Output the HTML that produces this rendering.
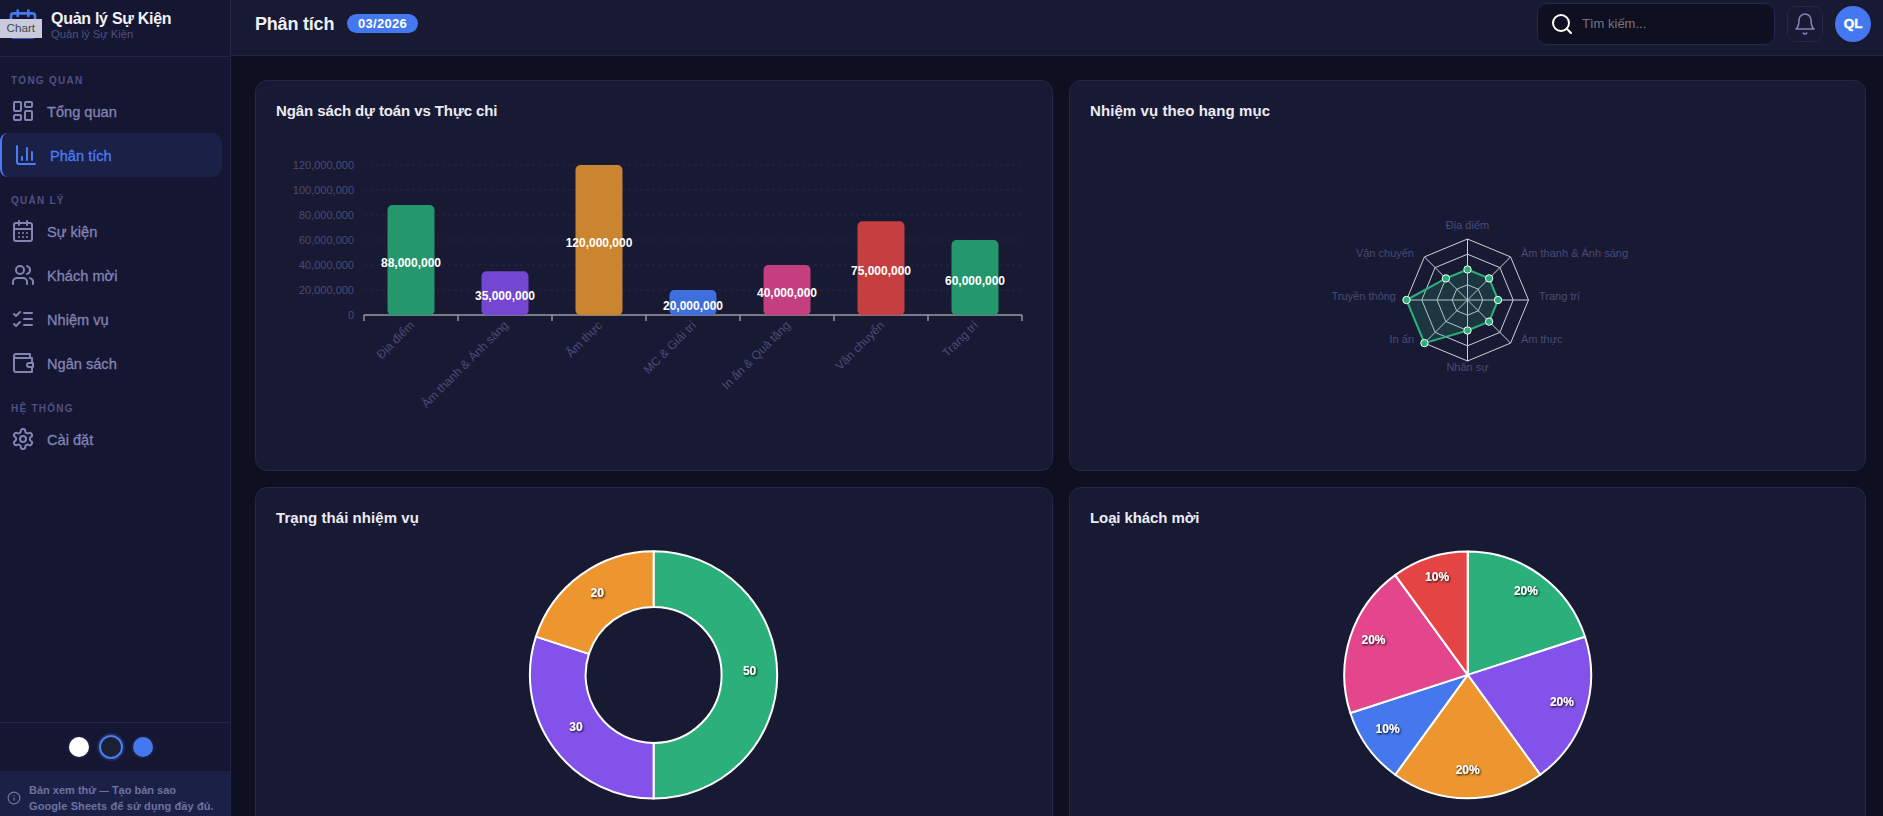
<!DOCTYPE html>
<html lang="vi">
<head>
<meta charset="utf-8">
<title>Quản lý Sự Kiện</title>
<style>
*{box-sizing:border-box;margin:0;padding:0}
html,body{width:1883px;height:816px;overflow:hidden;background:#0f0f22;font-family:"Liberation Sans",sans-serif;color:#fff}
.abs{position:absolute}
#sidebar{position:absolute;left:0;top:0;width:231px;height:816px;background:#151632;border-right:1px solid #22244a}
#sbhead{position:absolute;left:0;top:0;width:230px;height:57px;border-bottom:1px solid #22244a}
.brand{position:absolute;left:51px;top:9.7px;font-size:16px;line-height:18px;font-weight:700;color:#f1f1f9;white-space:nowrap;letter-spacing:-0.28px}
.brandsub{position:absolute;left:51px;top:28px;font-size:11.2px;color:#4f527e;white-space:nowrap}
.tip{position:absolute;left:0;top:19px;width:42px;height:19px;background:#c9cbdc;color:#46464c;font-size:11.7px;line-height:17.5px;padding-left:6.5px}
.sec{position:absolute;left:11px;font-size:10px;font-weight:700;letter-spacing:1.25px;color:#4e5182;margin-top:0.5px;white-space:nowrap}
.nav{position:absolute;left:47px;font-size:14.6px;line-height:18px;margin-top:-0.5px;color:#8284b3;white-space:nowrap;font-weight:400;-webkit-text-stroke:0.3px #8284b3}
.nav.act{left:50px;color:#4a7cf5;-webkit-text-stroke:0.3px #4a7cf5}
.ico{position:absolute;left:11px;width:24px;height:24px;fill:none;stroke:#8284b3;stroke-width:2;stroke-linecap:round;stroke-linejoin:round}
#actbg{position:absolute;left:0;top:133px;width:222px;height:44px;background:#1b2046;border-radius:8px 10px 10px 8px;border-left:2.5px solid #4a7cf5}
#sbfoot{position:absolute;left:0;top:722px;width:230px;height:1px;background:#22244a}
.dot{position:absolute;top:737px;width:20px;height:20px;border-radius:50%}
#banner{position:absolute;left:0;top:771px;width:230px;height:45px;background:#1b2046}
#banner .t{position:absolute;left:29px;top:11px;font-size:11px;line-height:16px;color:#6f71a0;white-space:nowrap;font-weight:700;letter-spacing:0.1px}
#header{position:absolute;left:231px;top:0;width:1652px;height:56px;background:#181932;border-bottom:1px solid #22244a}
#ptitle{position:absolute;left:24px;top:13.5px;font-size:18px;font-weight:700;color:#efeff8;white-space:nowrap;letter-spacing:-0.2px}
#badge{position:absolute;left:116px;top:14px;width:71px;height:19px;border-radius:10px;background:#4478ee;color:#fff;font-size:13px;font-weight:700;line-height:20px;text-align:center;letter-spacing:0.3px}
#search{position:absolute;left:1306px;top:3px;width:238px;height:42px;border-radius:9px;background:#0f0f22;border:1px solid #24264b}
#search span{position:absolute;left:44px;top:12px;font-size:13px;color:#76767c;white-space:nowrap}
#bell{position:absolute;left:1556px;top:6px;width:36px;height:36px;border-radius:9px;border:1px solid #24264b;background:#181932}
#avatar{position:absolute;left:1604px;top:6px;width:36px;height:36px;border-radius:50%;background:#4478ee;color:#fff;font-size:13.5px;font-weight:700;line-height:36px;text-align:center;-webkit-text-stroke:0.4px #fff}
.card{position:absolute;background:#181932;border:1px solid #24264a;border-radius:12px}
.ctitle{position:absolute;left:20px;top:20.5px;font-size:15px;font-weight:700;color:#ebebf5;white-space:nowrap;letter-spacing:-0.1px}
svg text{font-family:"Liberation Sans",sans-serif}
</style>
</head>
<body>
<div id="sidebar">
  <div id="sbhead">
    <svg class="abs" style="left:7px;top:8px" width="32" height="32" viewBox="0 0 24 24" fill="none" stroke="#4478ee" stroke-width="2" stroke-linecap="round" stroke-linejoin="round"><rect x="3" y="4" width="18" height="18" rx="2"/><line x1="16" y1="2" x2="16" y2="6"/><line x1="8" y1="2" x2="8" y2="6"/><line x1="3" y1="10" x2="21" y2="10"/></svg>
    <div class="tip">Chart</div>
    <div class="brand">Quản lý Sự Kiện</div>
    <div class="brandsub">Quản lý Sự Kiện</div>
  </div>
  <div class="sec" style="top:74px">TỔNG QUAN</div>
  <svg class="ico" style="top:99px" viewBox="0 0 24 24"><rect x="3" y="3" width="7" height="9" rx="1"/><rect x="14" y="3" width="7" height="5" rx="1"/><rect x="14" y="12" width="7" height="9" rx="1"/><rect x="3" y="16" width="7" height="5" rx="1"/></svg>
  <div class="nav" style="top:103px">Tổng quan</div>
  <div id="actbg"></div>
  <svg class="ico" style="top:143px;left:14px;stroke:#4a7cf5" viewBox="0 0 24 24"><path d="M3 3v16a2 2 0 0 0 2 2h16"/><path d="M18 17V9"/><path d="M13 17V5"/><path d="M8 17v-3"/></svg>
  <div class="nav act" style="top:147px">Phân tích</div>
  <div class="sec" style="top:194px">QUẢN LÝ</div>
  <svg class="ico" style="top:219px" viewBox="0 0 24 24"><path d="M8 2v4"/><path d="M16 2v4"/><rect x="3" y="4" width="18" height="18" rx="2"/><path d="M3 10h18"/><path d="M8 14h.01"/><path d="M12 14h.01"/><path d="M16 14h.01"/><path d="M8 18h.01"/><path d="M12 18h.01"/><path d="M16 18h.01"/></svg>
  <div class="nav" style="top:223px">Sự kiện</div>
  <svg class="ico" style="top:263px" viewBox="0 0 24 24"><path d="M16 21v-2a4 4 0 0 0-4-4H6a4 4 0 0 0-4 4v2"/><circle cx="9" cy="7" r="4"/><path d="M22 21v-2a4 4 0 0 0-3-3.87"/><path d="M16 3.13a4 4 0 0 1 0 7.75"/></svg>
  <div class="nav" style="top:267px">Khách mời</div>
  <svg class="ico" style="top:307px" viewBox="0 0 24 24"><path d="m3 17 2 2 4-4"/><path d="m3 7 2 2 4-4"/><path d="M13 6h8"/><path d="M13 12h8"/><path d="M13 18h8"/></svg>
  <div class="nav" style="top:311px">Nhiệm vụ</div>
  <svg class="ico" style="top:351px" viewBox="0 0 24 24"><path d="M21 12V7H5a2 2 0 0 1 0-4h14v4"/><path d="M3 5v14a2 2 0 0 0 2 2h16v-5"/><path d="M18 12a2 2 0 0 0 0 4h4v-4Z"/></svg>
  <div class="nav" style="top:355px">Ngân sách</div>
  <div class="sec" style="top:402px">HỆ THỐNG</div>
  <svg class="ico" style="top:427px" viewBox="0 0 24 24"><path d="M12.22 2h-.44a2 2 0 0 0-2 2v.18a2 2 0 0 1-1 1.73l-.43.25a2 2 0 0 1-2 0l-.15-.08a2 2 0 0 0-2.73.73l-.22.38a2 2 0 0 0 .73 2.73l.15.1a2 2 0 0 1 1 1.72v.51a2 2 0 0 1-1 1.74l-.15.09a2 2 0 0 0-.73 2.73l.22.38a2 2 0 0 0 2.73.73l.15-.08a2 2 0 0 1 2 0l.43.25a2 2 0 0 1 1 1.73V20a2 2 0 0 0 2 2h.44a2 2 0 0 0 2-2v-.18a2 2 0 0 1 1-1.73l.43-.25a2 2 0 0 1 2 0l.15.08a2 2 0 0 0 2.73-.73l.22-.39a2 2 0 0 0-.73-2.73l-.15-.08a2 2 0 0 1-1-1.74v-.5a2 2 0 0 1 1-1.74l.15-.09a2 2 0 0 0 .73-2.73l-.22-.38a2 2 0 0 0-2.73-.73l-.15.08a2 2 0 0 1-2 0l-.43-.25a2 2 0 0 1-1-1.73V4a2 2 0 0 0-2-2z"/><circle cx="12" cy="12" r="3"/></svg>
  <div class="nav" style="top:431px">Cài đặt</div>
  <div id="sbfoot"></div>
  <div class="dot" style="left:69px;background:#fff;box-shadow:0 0 0 2px #1c1d3c"></div>
  <div class="dot" style="left:99px;top:735px;width:24px;height:24px;background:#1c2033;border:2.5px solid #4a7cf5;box-shadow:0 0 0 2px #1d2a5a"></div>
  <div class="dot" style="left:133px;background:#4478ee;box-shadow:0 0 0 2px #1c1d3c"></div>
  <div id="banner">
    <svg class="abs" style="left:7px;top:20px" width="14" height="14" viewBox="0 0 24 24" fill="none" stroke="#7577a6" stroke-width="2" stroke-linecap="round"><circle cx="12" cy="12" r="10"/><path d="M12 16v-4"/><path d="M12 8h.01"/></svg>
    <div class="t"><span style="letter-spacing:0">Bản xem thử <span style="font-size:9.5px;line-height:0">—</span> Tạo bản sao</span><br>Google Sheets để sử dụng đầy đủ.</div>
  </div>
</div>
<div id="header">
  <div id="ptitle">Phân tích</div>
  <div id="badge">03/2026</div>
  <div id="search">
    <svg class="abs" style="left:12px;top:8px" width="24" height="24" viewBox="0 0 24 24" fill="none" stroke="#fff" stroke-width="2" stroke-linecap="round"><circle cx="11" cy="11" r="8"/><path d="m21 21-4.3-4.3"/></svg>
    <span>Tìm kiếm...</span>
  </div>
  <div id="bell">
    <svg class="abs" style="left:5px;top:5px" width="24" height="24" viewBox="0 0 24 24" fill="none" stroke="#8284b3" stroke-width="1.6" stroke-linecap="round" stroke-linejoin="round"><path d="M6 8a6 6 0 0 1 12 0c0 7 3 9 3 9H3s3-2 3-9"/><path d="M10.3 21a1.94 1.94 0 0 0 3.4 0"/></svg>
  </div>
  <div id="avatar">QL</div>
</div>
<div class="card" id="c1" style="left:255px;top:80px;width:798px;height:391px"><div class="ctitle">Ngân sách dự toán vs Thực chi</div></div>
<div class="card" id="c2" style="left:1069px;top:80px;width:797px;height:391px"><div class="ctitle" style="letter-spacing:0.08px">Nhiệm vụ theo hạng mục</div></div>
<div class="card" id="c3" style="left:255px;top:487px;width:798px;height:390px"><div class="ctitle" style="letter-spacing:0.07px">Trạng thái nhiệm vụ</div></div>
<div class="card" id="c4" style="left:1069px;top:487px;width:797px;height:390px"><div class="ctitle">Loại khách mời</div></div>
<!--CHARTS-->
<svg id="charts" class="abs" style="left:0;top:0;pointer-events:none" width="1883" height="816" viewBox="0 0 1883 816">
<defs><filter id="ts" x="-30%" y="-30%" width="160%" height="160%"><feDropShadow dx="1" dy="1" stdDeviation="0.9" flood-color="#000" flood-opacity="1"/></filter></defs>
<g id="bar">
<text x="354" y="319.0" text-anchor="end" font-size="11" fill="#494b78">0</text>
<text x="354" y="294.0" text-anchor="end" font-size="11" fill="#494b78">20,000,000</text>
<line x1="364" y1="290.0" x2="1022" y2="290.0" stroke="#25274b" stroke-width="1" stroke-dasharray="3 3"/>
<text x="354" y="269.0" text-anchor="end" font-size="11" fill="#494b78">40,000,000</text>
<line x1="364" y1="265.0" x2="1022" y2="265.0" stroke="#25274b" stroke-width="1" stroke-dasharray="3 3"/>
<text x="354" y="244.0" text-anchor="end" font-size="11" fill="#494b78">60,000,000</text>
<line x1="364" y1="240.0" x2="1022" y2="240.0" stroke="#25274b" stroke-width="1" stroke-dasharray="3 3"/>
<text x="354" y="219.0" text-anchor="end" font-size="11" fill="#494b78">80,000,000</text>
<line x1="364" y1="215.0" x2="1022" y2="215.0" stroke="#25274b" stroke-width="1" stroke-dasharray="3 3"/>
<text x="354" y="194.0" text-anchor="end" font-size="11" fill="#494b78">100,000,000</text>
<line x1="364" y1="190.0" x2="1022" y2="190.0" stroke="#25274b" stroke-width="1" stroke-dasharray="3 3"/>
<text x="354" y="169.0" text-anchor="end" font-size="11" fill="#494b78">120,000,000</text>
<line x1="364" y1="165.0" x2="1022" y2="165.0" stroke="#25274b" stroke-width="1" stroke-dasharray="3 3"/>
<line x1="364" y1="315" x2="1022" y2="315" stroke="#9b9ba3" stroke-width="1.5"/>
<line x1="364.0" y1="315" x2="364.0" y2="321" stroke="#9b9ba3" stroke-width="1.4"/>
<line x1="458.0" y1="315" x2="458.0" y2="321" stroke="#9b9ba3" stroke-width="1.4"/>
<line x1="552.0" y1="315" x2="552.0" y2="321" stroke="#9b9ba3" stroke-width="1.4"/>
<line x1="646.0" y1="315" x2="646.0" y2="321" stroke="#9b9ba3" stroke-width="1.4"/>
<line x1="740.0" y1="315" x2="740.0" y2="321" stroke="#9b9ba3" stroke-width="1.4"/>
<line x1="834.0" y1="315" x2="834.0" y2="321" stroke="#9b9ba3" stroke-width="1.4"/>
<line x1="928.0" y1="315" x2="928.0" y2="321" stroke="#9b9ba3" stroke-width="1.4"/>
<line x1="1022.0" y1="315" x2="1022.0" y2="321" stroke="#9b9ba3" stroke-width="1.4"/>
<rect x="387.5" y="205.0" width="47" height="110.3" rx="5" fill="#25976c"/>
<rect x="481.5" y="271.2" width="47" height="44.0" rx="5" fill="#7347d1"/>
<rect x="575.5" y="165.0" width="47" height="150.3" rx="5" fill="#cb842f"/>
<rect x="669.5" y="290.0" width="47" height="25.3" rx="5" fill="#3f6fdc"/>
<rect x="763.5" y="265.0" width="47" height="50.3" rx="5" fill="#c33f80"/>
<rect x="857.5" y="221.2" width="47" height="94.0" rx="5" fill="#c53f40"/>
<rect x="951.5" y="240.0" width="47" height="75.3" rx="5" fill="#25976c"/>
<text x="411.0" y="267.0" text-anchor="middle" font-size="12" font-weight="700" fill="#fff">88,000,000</text>
<text transform="translate(415.0,326) rotate(-45)" text-anchor="end" font-size="12" fill="#4a4c7a">Địa điểm</text>
<text x="505.0" y="300.1" text-anchor="middle" font-size="12" font-weight="700" fill="#fff">35,000,000</text>
<text transform="translate(509.0,326) rotate(-45)" text-anchor="end" font-size="12" fill="#4a4c7a">Âm thanh &amp; Ánh sáng</text>
<text x="599.0" y="247.0" text-anchor="middle" font-size="12" font-weight="700" fill="#fff">120,000,000</text>
<text transform="translate(603.0,326) rotate(-45)" text-anchor="end" font-size="12" fill="#4a4c7a">Ẩm thực</text>
<text x="693.0" y="309.5" text-anchor="middle" font-size="12" font-weight="700" fill="#fff">20,000,000</text>
<text transform="translate(697.0,326) rotate(-45)" text-anchor="end" font-size="12" fill="#4a4c7a">MC &amp; Giải trí</text>
<text x="787.0" y="297.0" text-anchor="middle" font-size="12" font-weight="700" fill="#fff">40,000,000</text>
<text transform="translate(791.0,326) rotate(-45)" text-anchor="end" font-size="12" fill="#4a4c7a">In ấn &amp; Quà tặng</text>
<text x="881.0" y="275.1" text-anchor="middle" font-size="12" font-weight="700" fill="#fff">75,000,000</text>
<text transform="translate(885.0,326) rotate(-45)" text-anchor="end" font-size="12" fill="#4a4c7a">Vận chuyển</text>
<text x="975.0" y="284.5" text-anchor="middle" font-size="12" font-weight="700" fill="#fff">60,000,000</text>
<text transform="translate(979.0,326) rotate(-45)" text-anchor="end" font-size="12" fill="#4a4c7a">Trang trí</text>
</g>
<g id="radar">
<polygon points="1467.5,284.8 1478.3,289.2 1482.8,300.0 1478.3,310.8 1467.5,315.2 1456.7,310.8 1452.2,300.0 1456.7,289.2" fill="none" stroke="#cfcfd8" stroke-width="1"/>
<polygon points="1467.5,269.5 1489.1,278.4 1498.0,300.0 1489.1,321.6 1467.5,330.5 1445.9,321.6 1437.0,300.0 1445.9,278.4" fill="none" stroke="#cfcfd8" stroke-width="1"/>
<polygon points="1467.5,254.2 1499.9,267.6 1513.2,300.0 1499.9,332.4 1467.5,345.8 1435.1,332.4 1421.8,300.0 1435.1,267.6" fill="none" stroke="#cfcfd8" stroke-width="1"/>
<polygon points="1467.5,239.0 1510.6,256.9 1528.5,300.0 1510.6,343.1 1467.5,361.0 1424.4,343.1 1406.5,300.0 1424.4,256.9" fill="none" stroke="#cfcfd8" stroke-width="1"/>
<line x1="1467.5" y1="300" x2="1467.5" y2="239.0" stroke="#cfcfd8" stroke-width="1"/>
<line x1="1467.5" y1="300" x2="1510.6" y2="256.9" stroke="#cfcfd8" stroke-width="1"/>
<line x1="1467.5" y1="300" x2="1528.5" y2="300.0" stroke="#cfcfd8" stroke-width="1"/>
<line x1="1467.5" y1="300" x2="1510.6" y2="343.1" stroke="#cfcfd8" stroke-width="1"/>
<line x1="1467.5" y1="300" x2="1467.5" y2="361.0" stroke="#cfcfd8" stroke-width="1"/>
<line x1="1467.5" y1="300" x2="1424.4" y2="343.1" stroke="#cfcfd8" stroke-width="1"/>
<line x1="1467.5" y1="300" x2="1406.5" y2="300.0" stroke="#cfcfd8" stroke-width="1"/>
<line x1="1467.5" y1="300" x2="1424.4" y2="256.9" stroke="#cfcfd8" stroke-width="1"/>
<polygon points="1467.5,269.5 1489.1,278.4 1498.0,300.0 1489.1,321.6 1467.5,330.5 1424.4,343.1 1406.5,300.0 1445.9,278.4" fill="#2bb07b" fill-opacity="0.2" stroke="#2bb07b" stroke-width="2" stroke-linejoin="round"/>
<circle cx="1467.5" cy="269.5" r="3.7" fill="#2bb07b" stroke="#fff" stroke-width="1"/>
<circle cx="1489.1" cy="278.4" r="3.7" fill="#2bb07b" stroke="#fff" stroke-width="1"/>
<circle cx="1498.0" cy="300.0" r="3.7" fill="#2bb07b" stroke="#fff" stroke-width="1"/>
<circle cx="1489.1" cy="321.6" r="3.7" fill="#2bb07b" stroke="#fff" stroke-width="1"/>
<circle cx="1467.5" cy="330.5" r="3.7" fill="#2bb07b" stroke="#fff" stroke-width="1"/>
<circle cx="1424.4" cy="343.1" r="3.7" fill="#2bb07b" stroke="#fff" stroke-width="1"/>
<circle cx="1406.5" cy="300.0" r="3.7" fill="#2bb07b" stroke="#fff" stroke-width="1"/>
<circle cx="1445.9" cy="278.4" r="3.7" fill="#2bb07b" stroke="#fff" stroke-width="1"/>
<text x="1467.5" y="229" text-anchor="middle" font-size="11" fill="#494b78">Địa điểm</text>
<text x="1521" y="257" text-anchor="start" font-size="11" fill="#494b78">Âm thanh &amp; Ánh sáng</text>
<text x="1539" y="300" text-anchor="start" font-size="11" fill="#494b78">Trang trí</text>
<text x="1521" y="343" text-anchor="start" font-size="11" fill="#494b78">Ẩm thực</text>
<text x="1467.5" y="371" text-anchor="middle" font-size="11" fill="#494b78">Nhân sự</text>
<text x="1414" y="343" text-anchor="end" font-size="11" fill="#494b78">In ấn</text>
<text x="1396" y="300" text-anchor="end" font-size="11" fill="#494b78">Truyền thông</text>
<text x="1414" y="257" text-anchor="end" font-size="11" fill="#494b78">Vận chuyển</text>
</g>
<g id="donut">
<path d="M653.60 551.20A123.7 123.7 0 0 1 653.60 798.60L653.60 742.90A68 68 0 0 0 653.60 606.90Z" fill="#2bb07b" stroke="#fff" stroke-width="2" stroke-linejoin="round"/>
<path d="M653.60 798.60A123.7 123.7 0 0 1 535.95 636.67L588.93 653.89A68 68 0 0 0 653.60 742.90Z" fill="#8352eb" stroke="#fff" stroke-width="2" stroke-linejoin="round"/>
<path d="M535.95 636.67A123.7 123.7 0 0 1 653.60 551.20L653.60 606.90A68 68 0 0 0 588.93 653.89Z" fill="#ed962f" stroke="#fff" stroke-width="2" stroke-linejoin="round"/>
<text x="749.6" y="675.0" text-anchor="middle" font-size="12" font-weight="700" fill="#fff" filter="url(#ts)">50</text>
<text x="575.9" y="731.4" text-anchor="middle" font-size="12" font-weight="700" fill="#fff" filter="url(#ts)">30</text>
<text x="597.2" y="597.3" text-anchor="middle" font-size="12" font-weight="700" fill="#fff" filter="url(#ts)">20</text>
</g>
<g id="pie">
<path d="M1467.7 674.9L1467.70 551.50A123.4 123.4 0 0 1 1585.06 636.77Z" fill="#2bb07b" stroke="#fff" stroke-width="2" stroke-linejoin="round"/>
<path d="M1467.7 674.9L1585.06 636.77A123.4 123.4 0 0 1 1540.23 774.73Z" fill="#8352eb" stroke="#fff" stroke-width="2" stroke-linejoin="round"/>
<path d="M1467.7 674.9L1540.23 774.73A123.4 123.4 0 0 1 1395.17 774.73Z" fill="#ed962f" stroke="#fff" stroke-width="2" stroke-linejoin="round"/>
<path d="M1467.7 674.9L1395.17 774.73A123.4 123.4 0 0 1 1350.34 713.03Z" fill="#4478ec" stroke="#fff" stroke-width="2" stroke-linejoin="round"/>
<path d="M1467.7 674.9L1350.34 713.03A123.4 123.4 0 0 1 1395.17 575.07Z" fill="#e3468d" stroke="#fff" stroke-width="2" stroke-linejoin="round"/>
<path d="M1467.7 674.9L1395.17 575.07A123.4 123.4 0 0 1 1467.70 551.50Z" fill="#e54444" stroke="#fff" stroke-width="2" stroke-linejoin="round"/>
<text x="1525.9" y="594.9" text-anchor="middle" font-size="12" font-weight="700" fill="#fff" filter="url(#ts)">20%</text>
<text x="1561.9" y="705.6" text-anchor="middle" font-size="12" font-weight="700" fill="#fff" filter="url(#ts)">20%</text>
<text x="1467.7" y="774.0" text-anchor="middle" font-size="12" font-weight="700" fill="#fff" filter="url(#ts)">20%</text>
<text x="1387.6" y="733.2" text-anchor="middle" font-size="12" font-weight="700" fill="#fff" filter="url(#ts)">10%</text>
<text x="1373.5" y="644.4" text-anchor="middle" font-size="12" font-weight="700" fill="#fff" filter="url(#ts)">20%</text>
<text x="1437.1" y="580.8" text-anchor="middle" font-size="12" font-weight="700" fill="#fff" filter="url(#ts)">10%</text>
</g>
</svg>
<!--/CHARTS-->
</body>
</html>
